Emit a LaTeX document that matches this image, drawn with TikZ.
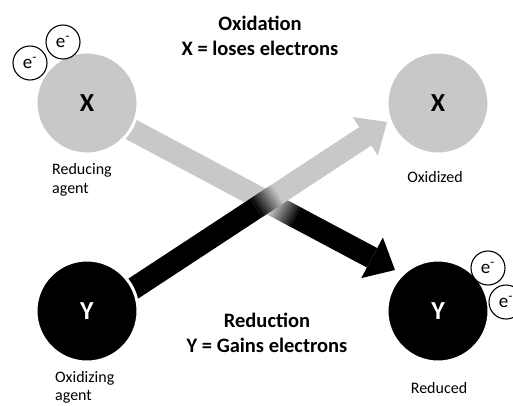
\documentclass[tikz,border=0pt]{standalone}
\usepackage{fontspec}
\setmainfont{Carlito}
\usetikzlibrary{calc,backgrounds}
\definecolor{lgray}{RGB}{200,200,200}
\tikzset{
  atom/.style={circle, minimum size=102pt, inner sep=0pt, draw=white, line width=3pt, font=\fontsize{26}{30}\selectfont\bfseries},
  xatom/.style={atom, fill=lgray, text=black},
  yatom/.style={atom, fill=black, text=white},
  elec/.style={circle, draw=black, fill=white, line width=1.1pt, minimum size=34pt, inner sep=0pt, font=\fontsize{19}{21}\selectfont},
  lbl/.style={inner sep=0pt, font=\fontsize{16}{19}\selectfont},
  ttl/.style={inner sep=0pt, font=\fontsize{20.5}{24}\selectfont\bfseries},
  shaft/.style={line width=22pt},
}
\newcommand\mygradarrow[7]{%
  \coordinate (#1b) at ($(#3)!26pt!(#2)$);
  \coordinate (#1l) at ($(#1b)!23pt!90:(#3)$);
  \coordinate (#1r) at ($(#1b)!23pt!-90:(#3)$);
  \draw[shaft, draw=#4] (#2) -- ($(#2)!#6!(#3)$);
  \foreach \i in {0,...,19} {
    \pgfmathsetmacro\ta{#6+(#7-#6)*\i/20}
    \pgfmathsetmacro\tb{#6+(#7-#6)*(\i+1.4)/20}
    \pgfmathtruncatemacro\pc{100*(\i+0.5)/20}
    \draw[shaft, draw=#5!\pc!#4] ($(#2)!\ta!(#3)$) -- ($(#2)!\tb!(#3)$);
  }
  \draw[shaft, draw=#5] ($(#2)!#7!(#3)$) -- (#1b);
  \fill[#5] (#3) -- (#1l) -- (#1r) -- cycle;
}
\begin{document}
\begin{tikzpicture}[x=1pt, y=-1pt]
\useasboundingbox (0,0) rectangle (513,405);
% atoms
\node[xatom] (X1) at (87,103) {X};
\node[xatom] (X2) at (438,103) {X};
\node[yatom] (Y1) at (87,311) {Y};
\node[yatom] (Y2) at (438,311) {Y};
% electrons
\node[elec] (e1) at (30,63) {e\textsuperscript{-}};
\node[elec] (e2) at (63,42) {e\textsuperscript{-}};
\node[elec] (e3) at (488,268) {e\textsuperscript{-}};
\node[elec] (e4) at (506,302) {e\textsuperscript{-}};
% arrows
\coordinate (s1) at ($(X1.center)+(0,3)$);
\coordinate (t1) at (395,270);
\coordinate (s2) at ($(Y1.center)+(0,8)$);
\coordinate (t2) at (387,122);
\begin{pgfonlayer}{background}
\mygradarrow{da}{s1}{t1}{lgray}{black}{0.604}{0.682}
\mygradarrow{ua}{s2}{t2}{black}{lgray}{0.563}{0.637}
\end{pgfonlayer}
% titles
\node[ttl, anchor=base] (ox) at (260,30) {Oxidation};
\node[ttl, anchor=base] (oxd) at (260,55) {X = loses electrons};
\node[ttl, anchor=base] (red) at (267,327) {Reduction};
\node[ttl, anchor=base] (redd) at (267,352) {Y = Gains electrons};
% labels
\node[lbl, anchor=base west] (ra1) at (52,174) {Reducing};
\node[lbl, anchor=base west] (ra2) at (52,193) {agent};
\node[lbl, anchor=base west] (oa1) at (55,382) {Oxidizing};
\node[lbl, anchor=base west] (oa2) at (55,400) {agent};
\node[lbl, anchor=base] (oxz) at (435,182) {Oxidized};
\node[lbl, anchor=base] (rdd) at (439,393) {Reduced};
\end{tikzpicture}
\end{document}
